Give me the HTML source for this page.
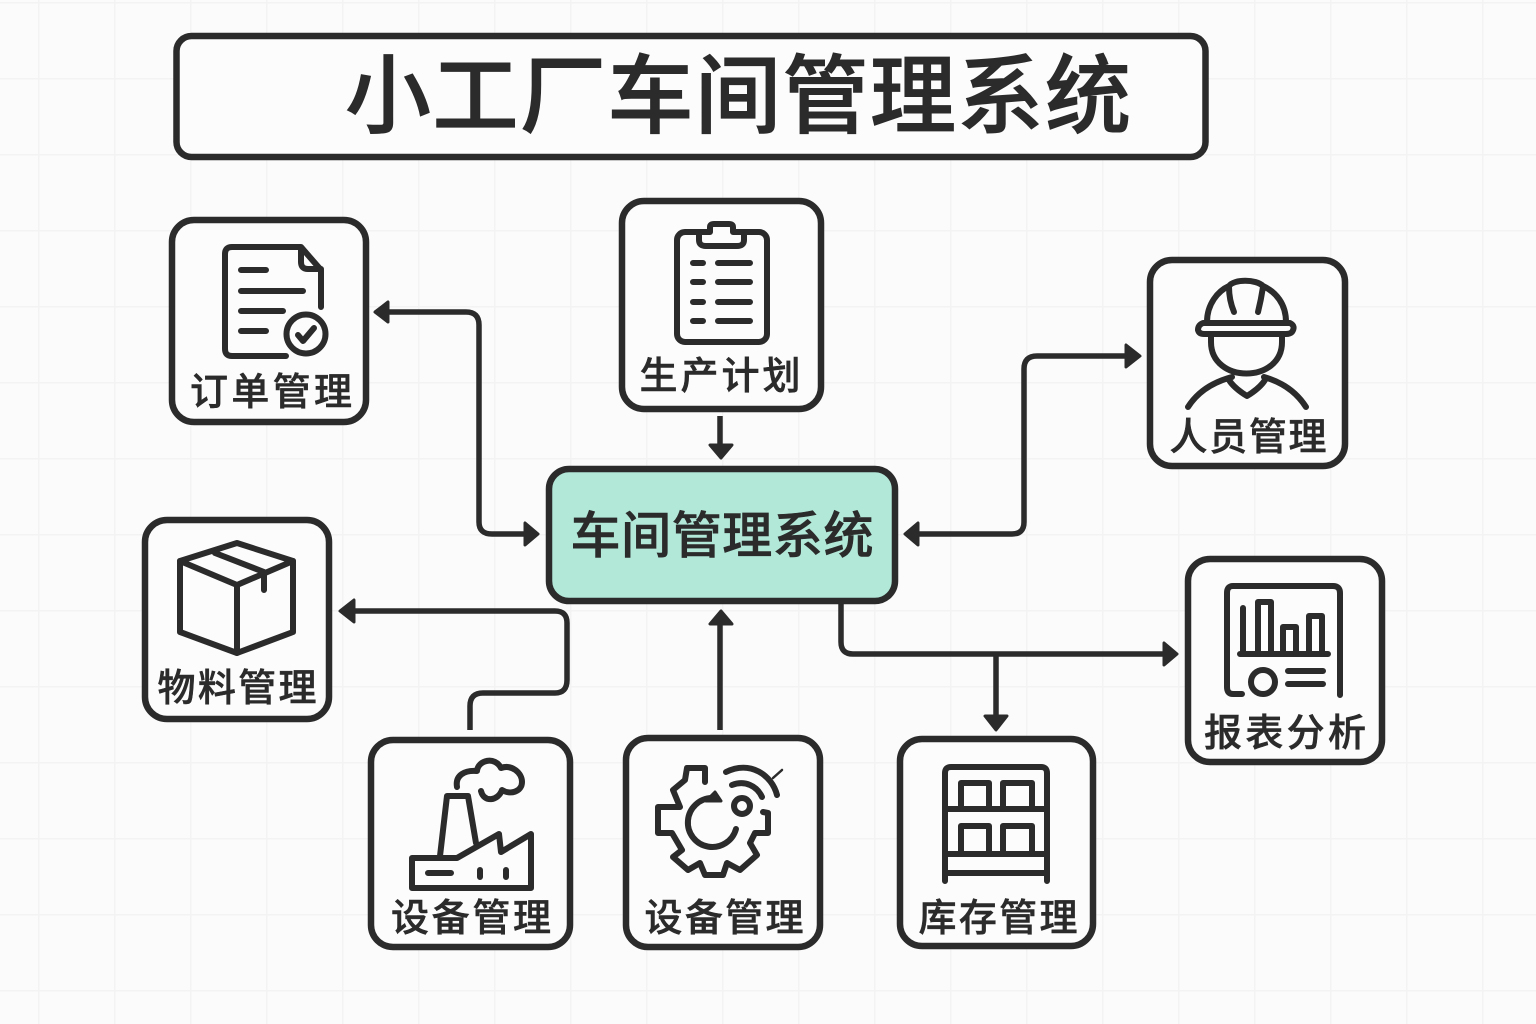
<!DOCTYPE html>
<html lang="zh"><head><meta charset="utf-8"><title>小工厂车间管理系统</title>
<style>
html,body{margin:0;padding:0;background:#fbfbfb}
svg{display:block}
text{font-family:"Liberation Sans","Noto Sans CJK SC",sans-serif;fill:#2b2b2b;text-anchor:middle;font-weight:500;stroke:#2b2b2b;stroke-width:.5px}
.box{fill:#fcfcfc;stroke:#2b2b2b;stroke-width:6.500}
.l{fill:none;stroke:#2b2b2b;stroke-width:6;stroke-linecap:round;stroke-linejoin:round}
.a{fill:#2b2b2b;stroke:#2b2b2b;stroke-width:3;stroke-linejoin:round}
.c{fill:none;stroke:#2b2b2b;stroke-width:5.500;stroke-linejoin:round}
.t{font-size:38px}
</style></head><body>
<svg width="1536" height="1024" viewBox="0 0 1536 1024" xmlns="http://www.w3.org/2000/svg">
<defs><pattern id="g" width="76" height="76" patternUnits="userSpaceOnUse" x="38" y="2"><path d="M0 0V76M0 0H76" fill="none" stroke="#f3f3f3" stroke-width="3"/></pattern></defs>
<rect width="1536" height="1024" fill="#fbfbfb"/>
<rect width="1536" height="1024" fill="url(#g)"/>

<rect x="176.500" y="36" width="1029" height="121" rx="15" class="box"/>
<text x="738" y="126" font-size="86" textLength="786" lengthAdjust="spacing" style="stroke-width:.9px">小工厂车间管理系统</text>

<!-- connectors -->
<path class="c" d="M385 312H466Q479 312 479 325V522Q479 534 492 534H528"/>
<polygon class="a" points="375,312 388,302 388,322"/><polygon class="a" points="538,534 525,523 525,545"/>
<path class="c" d="M720 416V446"/><polygon class="a" points="721,458 710,445 732,445"/>
<path class="c" d="M915 534H1012Q1024 534 1024 522V369Q1024 356 1037 356H1130"/>
<polygon class="a" points="905,534 918,523 918,545"/><polygon class="a" points="1140,356 1126,345 1126,367"/>
<path class="c" d="M350 611H555Q567 611 567 623V680Q567 693 555 693H483Q470 693 470 706V730"/>
<polygon class="a" points="340,611 354,600 354,622"/>
<path class="c" d="M720 730V620"/><polygon class="a" points="721,611 710,624 732,624"/>
<path class="c" d="M841 604V642Q841 654 853 654H1166"/><polygon class="a" points="1177,654 1164,643 1164,665"/>
<path class="c" d="M996 654V720"/><polygon class="a" points="996,730 985,716 1007,716"/>

<!-- center -->
<rect x="549" y="469" width="346" height="132" rx="20" fill="#b2e8d8" stroke="#2b2b2b" stroke-width="6.500"/>
<text x="722" y="553" font-size="50" textLength="303" lengthAdjust="spacing" style="stroke-width:.6px">车间管理系统</text>

<!-- boxes -->
<rect class="box" x="172" y="220" width="194" height="202" rx="22"/>
<rect class="box" x="622" y="201" width="199" height="208" rx="22"/>
<rect class="box" x="1150" y="260" width="195" height="206" rx="22"/>
<rect class="box" x="1188" y="559" width="194" height="203" rx="22"/>
<rect class="box" x="145" y="520" width="184" height="199" rx="22"/>
<rect class="box" x="371" y="740" width="199" height="207" rx="22"/>
<rect class="box" x="626" y="738" width="194" height="209" rx="22"/>
<rect class="box" x="900" y="739" width="193" height="207" rx="22"/>

<text class="t" x="271" y="405" textLength="162" lengthAdjust="spacing">订单管理</text>
<text class="t" x="720" y="389" textLength="161" lengthAdjust="spacing">生产计划</text>
<text class="t" x="1248" y="450" textLength="157" lengthAdjust="spacing">人员管理</text>
<text class="t" x="1285" y="746" textLength="162" lengthAdjust="spacing">报表分析</text>
<text class="t" x="237" y="701" textLength="159" lengthAdjust="spacing">物料管理</text>
<text class="t" x="471" y="931" textLength="160" lengthAdjust="spacing">设备管理</text>
<text class="t" x="724" y="931" textLength="159" lengthAdjust="spacing">设备管理</text>
<text class="t" x="998" y="931" textLength="159" lengthAdjust="spacing">库存管理</text>

<!-- order icon -->
<g class="l">
<path d="M286 356H232Q225 356 225 349V254Q225 247 232 247H301L321 270V307"/>
<path d="M301 248V262Q301 269 308 269H321"/>
<path d="M241 270H266M241 291H303M241 311H283M241 331H266"/>
<circle cx="306" cy="334" r="19.500"/>
<path d="M298 335L303 341L314 328"/>
</g>
<!-- clipboard -->
<g class="l">
<rect x="677" y="232" width="90" height="110" rx="8"/>
<path fill="#fcfcfc" d="M699 232V240Q699 246 706 246H737Q744 246 744 240V232H733V227Q733 224 729 224H714Q710 224 710 227V232Z"/>
<path d="M693 263H703M693 282H703M693 302H703M693 321H703M718 263H750M718 282H750M718 302H750M718 321H750"/>
</g>
<!-- worker -->
<g class="l">
<path d="M1207 322C1207 304 1218 291 1229 286C1234 279 1256 279 1263 286C1276 292 1286 304 1286 322"/>
<path d="M1203 323H1290Q1296 326 1292 332Q1290 334 1286 334H1204Q1199 334 1198 330Q1198 325 1203 323Z"/>
<path d="M1229 287Q1229 300 1234 312M1263 287Q1261 300 1258 312"/>
<path d="M1211 336V342C1211 384 1282 384 1282 342V336"/>
<path d="M1188 407Q1202 385 1232 377M1306 407Q1292 385 1264 377"/>
<path d="M1229 380Q1234 388 1247 396Q1260 388 1265 380"/>
</g>
<!-- report -->
<g class="l">
<path d="M1242 694H1233Q1227 694 1227 687V593Q1227 586 1233 586H1333Q1340 586 1340 593V695"/>
<path d="M1240 654H1328M1243 608V654"/>
<path d="M1258 654V602H1271V654M1283 654V627H1296V654M1309 654V616H1322V654"/>
<circle cx="1263" cy="682" r="12"/>
<path d="M1288 671H1323M1288 684H1323"/>
</g>
<!-- box -->
<g class="l">
<path d="M237 543L293 561V632L237 653L180 632V561Z"/>
<path d="M180 561L237 585L293 561M237 585V653"/>
<path d="M215 553L264 572V590"/>
</g>
<!-- factory -->
<g class="l">
<path d="M412 858H457L499 834L501 852L531 834V888H412Z"/>
<path d="M440 856L447 796H468L476 843"/>
<path d="M428 873H451M480 870V877M506 870V877"/>
<path d="M457 787C455 775 465 770 477 771C478 760 495 756 501 768C512 764 522 773 522 782C522 792 510 795 502 790C498 801 484 803 481 791"/>
</g>
<!-- gear -->
<g class="l">
<path d="M705 782V768H687L685 780L673 790L680 807H658V833H672L682 850L673 857L688 870L700 863L705 875H723L727 863L740 870L757 855L750 843L755 833H768V813L763 812"/>
<path d="M712 798A24.500 24.500 0 1 0 736 829"/>
<circle cx="742" cy="806" r="8"/>
<path d="M726 772C750 760 772 775 777 795M732 785C745 780 757 786 762 797"/>
<path d="M773 778L782 770" style="stroke-width:2.500"/>
</g>
<polygon class="a" points="715,792 721,801 706,801"/>
<!-- shelves -->
<g class="l">
<path d="M945 881V773Q945 767 951 767H1041Q1047 767 1047 773V881"/>
<path d="M945 809H1047M945 854H1047M945 873H1047"/>
<path d="M961 809V783H989V809M1003 809V783H1032V809M961 854V826H989V854M1003 854V826H1032V854"/>
</g>
</svg>
</body></html>
